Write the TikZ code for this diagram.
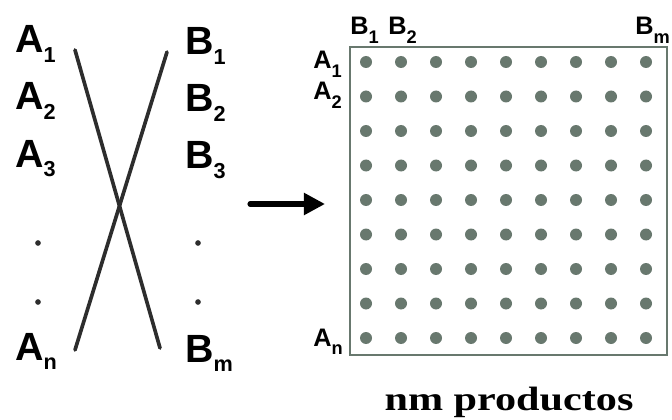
\documentclass[tikz,border=0pt]{standalone}
\usepackage{fontspec}
\newfontfamily\lblfont{Liberation Sans}
\newfontfamily\capfont[FakeStretch=1.25]{Liberation Serif}
\usetikzlibrary{arrows.meta}
\definecolor{dotgray}{RGB}{104,120,110}
\definecolor{linegray}{RGB}{45,45,45}
\newcommand{\ix}[1]{\raisebox{-.25em}{\scalebox{.55}{#1}}}
\newcommand{\mix}[1]{\raisebox{-.35em}{\scalebox{.72}{#1}}}

\begin{document}
\begin{tikzpicture}[x=0.025cm, y=-0.025cm,
  >={Triangle[length=15pt, width=15pt]},
  lbl/.style={inner sep=0pt, anchor=base west, font=\lblfont\bfseries\fontsize{28}{30}\selectfont},
  mlbl/.style={lbl, font=\lblfont\bfseries\fontsize{18}{20}\selectfont},
  vdot/.style={circle, fill=linegray, inner sep=0pt, minimum size=4pt}]
  \useasboundingbox (0,0) rectangle (672,420);

  % left: the two lists
  \node[lbl] (a1) at (15,53) {A\ix{1}};
  \node[lbl] (a2) at (15,110) {A\ix{2}};
  \node[lbl] (a3) at (15,167) {A\ix{3}};
  \node[vdot] (ad1) at (38,243) {};
  \node[vdot] (ad2) at (38,302) {};
  \node[lbl] (an) at (15,360) {A\ix{n}};

  \node[lbl] (b1) at (185,55) {B\ix{1}};
  \node[lbl] (b2) at (185,112) {B\ix{2}};
  \node[lbl] (b3) at (185,169) {B\ix{3}};
  \node[vdot] (bd1) at (198,243) {};
  \node[vdot] (bd2) at (198,302) {};
  \node[lbl] (bm) at (185,362) {B\ix{m}};

  % crossing strokes
  \coordinate (xa) at (75,50);
  \coordinate (xb) at (160,348);
  \coordinate (xc) at (167,52);
  \coordinate (xd) at (75,350);
  \draw[linegray, line width=2.6pt, line cap=round] (xa) -- (xb);
  \draw[linegray, line width=2.6pt, line cap=round] (xc) -- (xd);

  % arrow
  \coordinate (ar0) at (250,204);
  \coordinate (ar1) at (325,204);
  \draw[->, line width=3.6pt, line cap=round] (ar0) -- (ar1);

  % right: product grid
  \draw[dotgray, line width=1.3pt] (350,47) rectangle (667,355);
  \foreach \i in {0,...,8}
    \foreach \j in {0,...,8}
      \fill[dotgray] (366+35*\i, 62+34.5*\j) circle[radius=6];

  \node[mlbl] (mb1) at (350,35) {B\mix{1}};
  \node[mlbl] (mb2) at (388,35) {B\mix{2}};
  \node[mlbl] (mbm) at (635,35) {B\mix{m}};
  \node[mlbl] (ma1) at (313,69) {A\mix{1}};
  \node[mlbl] (ma2) at (313,100) {A\mix{2}};
  \node[mlbl] (man) at (313,346) {A\mix{n}};

  \node[inner sep=0pt, anchor=base, font=\capfont\bfseries\fontsize{24}{26}\selectfont] (cap) at (509,410) {nm productos};
\end{tikzpicture}
\end{document}
